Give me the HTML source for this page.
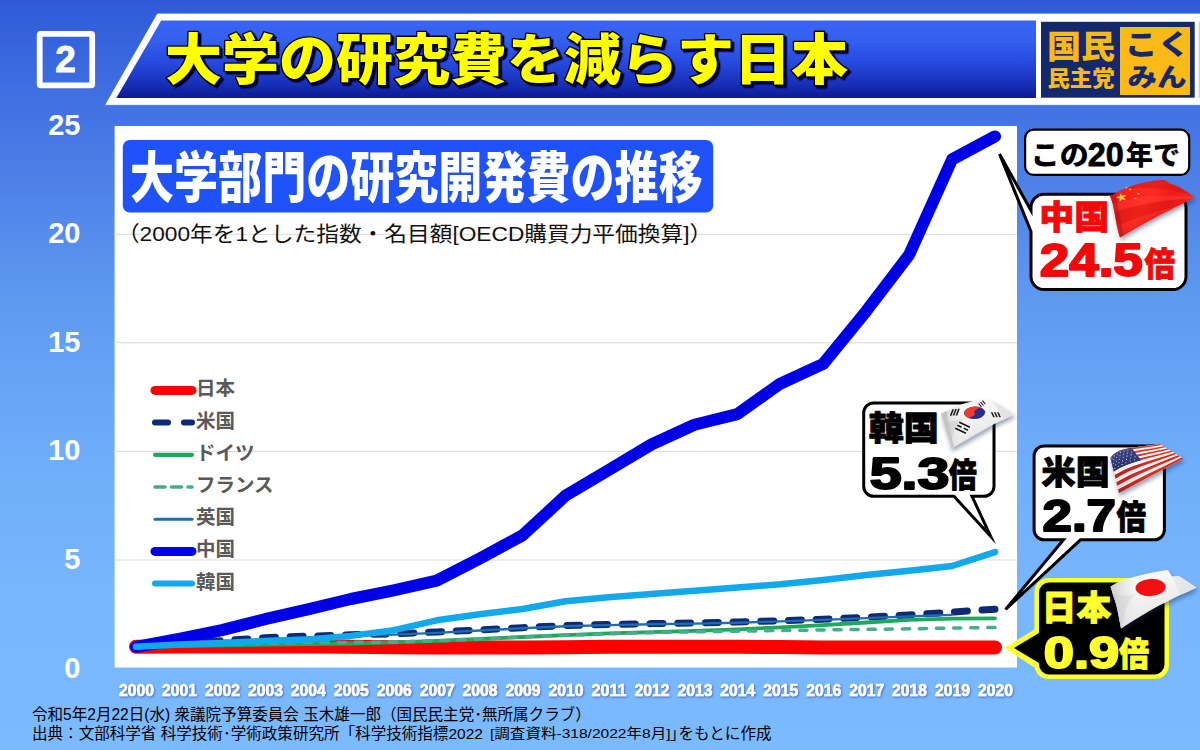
<!DOCTYPE html>
<html lang="ja"><head><meta charset="utf-8"><title>大学の研究費を減らす日本</title>
<style>
html,body{margin:0;padding:0;background:#6aa6f3;overflow:hidden}
svg{display:block}
text{font-family:"Liberation Sans","Noto Sans CJK JP",sans-serif}
.hv{font-weight:900}
</style></head><body>
<svg width="1200" height="750" viewBox="0 0 1200 750">
<defs>
<linearGradient id="bg" x1="0" y1="0" x2="0" y2="1">
<stop offset="0" stop-color="#2e5ad8"/><stop offset="0.13" stop-color="#4070e2"/><stop offset="0.4" stop-color="#5f99f0"/><stop offset="0.52" stop-color="#68a5f6"/><stop offset="0.62" stop-color="#6faefa"/><stop offset="0.8" stop-color="#78b6fd"/><stop offset="1" stop-color="#7cbafe"/>
</linearGradient>
<linearGradient id="ban" x1="0" y1="0" x2="0" y2="1">
<stop offset="0" stop-color="#3964f4"/><stop offset="0.25" stop-color="#3460f0"/><stop offset="0.55" stop-color="#2649dd"/><stop offset="0.8" stop-color="#1932bc"/><stop offset="1" stop-color="#0c1a92"/>
</linearGradient>
<filter id="tsh" x="-1%" y="-10%" width="102%" height="125%"><feDropShadow dx="2.400" dy="2.400" stdDeviation="0.300" flood-color="#00003a" flood-opacity="1"/></filter>
<filter id="ysh" x="-5%" y="-30%" width="110%" height="180%"><feDropShadow dx="0.800" dy="1" stdDeviation="1.100" flood-color="#3a5ca2" flood-opacity="0.900"/></filter>
</defs>
<rect width="1200" height="750" fill="url(#bg)"/>

<!-- number box -->
<rect x="39.700" y="33.800" width="52.500" height="51.500" rx="1" fill="none" stroke="#fff" stroke-width="5.800"/>
<text x="65.5" y="72" text-anchor="middle" font-size="37" font-weight="700" fill="#fff" stroke="#fff" stroke-width="0.8">2</text>

<!-- banner -->
<polygon points="157.500,14 1200,14 1200,104.600 105.800,104.600" fill="#fff" stroke="#fff" stroke-width="0.800" stroke-linejoin="round"/>
<polygon points="161.200,20.500 1036,20.500 1036,98 116.300,98" fill="url(#ban)"/>
<rect x="1041" y="21.800" width="153.700" height="75.900" fill="#14286e"/>
<rect x="1198.500" y="21.500" width="1.500" height="76.500" fill="#c5cef2"/>
<rect x="1120" y="27" width="70" height="68" fill="#fbb917"/>
<g class="hv" fill="#fbb917">
<text x="1047" y="58" font-size="32" textLength="68" lengthAdjust="spacingAndGlyphs">国民</text>
<text x="1047.500" y="86" font-size="21.500" textLength="67" lengthAdjust="spacingAndGlyphs">民主党</text>
</g>
<g class="hv" fill="#14286e">
<text x="1124.700" y="55" font-size="28" textLength="65.700" lengthAdjust="spacingAndGlyphs">こく</text>
<text x="1127.500" y="85.500" font-size="24.500" textLength="59" lengthAdjust="spacingAndGlyphs">みん</text>
</g>
<g class="hv" font-size="55">
<text x="165" y="79.300" fill="#ffff00" stroke="#000" stroke-width="2.600" filter="url(#tsh)" stroke-linejoin="round" paint-order="stroke" textLength="683" lengthAdjust="spacingAndGlyphs">大学の研究費を減らす日本</text>
</g>

<!-- chart panel -->
<rect x="114.600" y="126" width="902.400" height="541.500" fill="#fff"/>
<g stroke="#d9d9d9" stroke-width="1"><line x1="114" x2="1017" y1="560.0" y2="560.0"/><line x1="114" x2="1017" y1="451.4" y2="451.4"/><line x1="114" x2="1017" y1="342.8" y2="342.8"/><line x1="114" x2="1017" y1="234.3" y2="234.3"/></g>
<rect x="122.800" y="140" width="590.400" height="72.600" rx="7" fill="#1f52f8"/>
<text class="hv" x="130" y="196.700" font-size="55" fill="#fff" textLength="572.700" lengthAdjust="spacingAndGlyphs">大学部門の研究開発費の推移</text>
<text x="116.900" y="240.500" font-size="21" font-weight="400" fill="#111" textLength="595.300" lengthAdjust="spacingAndGlyphs">（2000年を1とした指数・名目額[OECD購買力平価換算]）</text>

<!-- axis labels -->
<g font-size="29" font-weight="700" fill="#fff"><text x="80.5" y="677.5" text-anchor="end">0</text><text x="80.5" y="569.0" text-anchor="end">5</text><text x="80.5" y="460.4" text-anchor="end">10</text><text x="80.5" y="351.8" text-anchor="end">15</text><text x="80.5" y="243.3" text-anchor="end">20</text><text x="80.5" y="134.8" text-anchor="end">25</text></g>
<g font-size="17" font-weight="700" fill="#fff" stroke="#fff" stroke-width="0.600" filter="url(#ysh)"><text x="136.5" y="696.3" text-anchor="middle" textLength="35" lengthAdjust="spacingAndGlyphs">2000</text><text x="179.4" y="696.3" text-anchor="middle" textLength="35" lengthAdjust="spacingAndGlyphs">2001</text><text x="222.4" y="696.3" text-anchor="middle" textLength="35" lengthAdjust="spacingAndGlyphs">2002</text><text x="265.4" y="696.3" text-anchor="middle" textLength="35" lengthAdjust="spacingAndGlyphs">2003</text><text x="308.3" y="696.3" text-anchor="middle" textLength="35" lengthAdjust="spacingAndGlyphs">2004</text><text x="351.2" y="696.3" text-anchor="middle" textLength="35" lengthAdjust="spacingAndGlyphs">2005</text><text x="394.2" y="696.3" text-anchor="middle" textLength="35" lengthAdjust="spacingAndGlyphs">2006</text><text x="437.2" y="696.3" text-anchor="middle" textLength="35" lengthAdjust="spacingAndGlyphs">2007</text><text x="480.1" y="696.3" text-anchor="middle" textLength="35" lengthAdjust="spacingAndGlyphs">2008</text><text x="523.0" y="696.3" text-anchor="middle" textLength="35" lengthAdjust="spacingAndGlyphs">2009</text><text x="566.0" y="696.3" text-anchor="middle" textLength="35" lengthAdjust="spacingAndGlyphs">2010</text><text x="609.0" y="696.3" text-anchor="middle" textLength="35" lengthAdjust="spacingAndGlyphs">2011</text><text x="651.9" y="696.3" text-anchor="middle" textLength="35" lengthAdjust="spacingAndGlyphs">2012</text><text x="694.9" y="696.3" text-anchor="middle" textLength="35" lengthAdjust="spacingAndGlyphs">2013</text><text x="737.8" y="696.3" text-anchor="middle" textLength="35" lengthAdjust="spacingAndGlyphs">2014</text><text x="780.8" y="696.3" text-anchor="middle" textLength="35" lengthAdjust="spacingAndGlyphs">2015</text><text x="823.7" y="696.3" text-anchor="middle" textLength="35" lengthAdjust="spacingAndGlyphs">2016</text><text x="866.7" y="696.3" text-anchor="middle" textLength="35" lengthAdjust="spacingAndGlyphs">2017</text><text x="909.6" y="696.3" text-anchor="middle" textLength="35" lengthAdjust="spacingAndGlyphs">2018</text><text x="952.6" y="696.3" text-anchor="middle" textLength="35" lengthAdjust="spacingAndGlyphs">2019</text><text x="995.5" y="696.3" text-anchor="middle" textLength="35" lengthAdjust="spacingAndGlyphs">2020</text></g>

<!-- legend -->
<g font-size="19.500" font-weight="700" fill="#595959"><line x1="155" x2="192" y1="390.4" y2="390.4" stroke="#ff0000" stroke-width="9" stroke-linecap="round"/><text x="196" y="395.4">日本</text><line x1="155" x2="192" y1="422.6" y2="422.6" stroke="#0f2a75" stroke-width="6" stroke-dasharray="13 16" stroke-linecap="round"/><text x="196" y="427.6">米国</text><line x1="155" x2="192" y1="454.8" y2="454.8" stroke="#1fa85c" stroke-width="4.200" stroke-linecap="round"/><text x="196" y="459.8">ドイツ</text><line x1="155" x2="192" y1="487.0" y2="487.0" stroke="#45ad8c" stroke-width="3.600" stroke-dasharray="10 6.500" stroke-linecap="round"/><text x="196" y="492.0">フランス</text><line x1="155" x2="192" y1="519.2" y2="519.2" stroke="#1d6db3" stroke-width="3" stroke-linecap="round"/><text x="196" y="524.2">英国</text><line x1="155" x2="192" y1="551.4" y2="551.4" stroke="#0000e6" stroke-width="9" stroke-linecap="round"/><text x="196" y="556.4">中国</text><line x1="155" x2="192" y1="583.6" y2="583.6" stroke="#12a8ec" stroke-width="6" stroke-linecap="round"/><text x="196" y="588.6">韓国</text></g>

<!-- series -->
<g fill="none" stroke-linecap="round" stroke-linejoin="round">
<polyline points="136.0,646.8 178.9,646.6 221.9,646.4 264.9,646.4 307.8,646.6 350.8,646.8 393.7,647.2 436.7,647.4 479.6,647.4 522.5,647.4 565.5,647.2 608.5,646.8 651.4,646.8 694.4,646.8 737.3,646.8 780.2,647.0 823.2,647.4 866.2,647.4 909.1,647.4 952.1,647.4 995.0,647.5" stroke="#ff0000" stroke-width="14"/>
<polyline points="995.0,609.2 952.1,612.1 909.1,614.9 866.2,617.3 823.2,619.2 780.2,620.7 737.3,622.0 694.4,622.9 651.4,623.6 608.5,624.4 565.5,625.5 522.5,627.7 479.6,629.9 436.7,632.0 393.7,633.8 350.8,634.8 307.8,636.2 264.9,637.7 221.9,640.7 178.9,644.0 136.0,646.8" stroke="#0f2a75" stroke-width="7" stroke-dasharray="13 14.700"/>
<polyline points="136.0,646.8 178.9,646.1 221.9,645.3 264.9,644.6 307.8,644.2 350.8,643.5 393.7,642.4 436.7,640.9 479.6,639.0 522.5,637.0 565.5,635.1 608.5,633.3 651.4,632.2 694.4,630.9 737.3,629.4 780.2,627.3 823.2,625.1 866.2,622.5 909.1,619.9 952.1,618.6 995.0,618.3" stroke="#1fa85c" stroke-width="3.800"/>
<polyline points="995.0,627.5 952.1,628.1 909.1,628.8 866.2,629.4 823.2,629.9 780.2,630.5 737.3,631.2 694.4,631.8 651.4,632.7 608.5,633.8 565.5,635.3 522.5,637.0 479.6,639.2 436.7,640.9 393.7,642.0 350.8,642.4 307.8,642.4 264.9,643.5 221.9,644.6 178.9,645.7 136.0,646.8" stroke="#45ad8c" stroke-width="3.500" stroke-dasharray="7.200 9.900"/>
<polyline points="136.0,646.8 178.9,644.6 221.9,642.0 264.9,639.2 307.8,637.5 350.8,635.9 393.7,634.6 436.7,632.9 479.6,630.5 522.5,628.3 565.5,626.2 608.5,625.1 651.4,624.2 694.4,623.6 737.3,622.7 780.2,621.4 823.2,619.9 866.2,618.1 909.1,616.4 952.1,614.9" stroke="#1d6db3" stroke-width="2.400"/>
<polyline points="136.0,646.8 178.9,638.8 221.9,630.1 264.9,619.2 307.8,609.4 350.8,599.0 393.7,590.3 436.7,580.6 479.6,558.6 522.5,535.4 565.5,495.7 608.5,470.1 651.4,444.5 694.4,424.7 737.3,414.1 780.2,383.7 823.2,363.9 866.2,311.2 909.1,254.9 952.1,159.4 995.0,136.4" stroke="#0000e6" stroke-width="12"/>
<polyline points="136.0,646.8 178.9,644.6 221.9,642.9 264.9,641.1 307.8,639.4 350.8,635.9 393.7,630.1 436.7,620.3 479.6,614.2 522.5,609.0 565.5,601.2 608.5,597.3 651.4,594.0 694.4,590.8 737.3,587.5 780.2,584.3 823.2,579.9 866.2,575.1 909.1,570.8 952.1,566.0 995.0,552.1" stroke="#12a8ec" stroke-width="6.500"/>
</g>

<!-- CALLOUTS -->
<defs>
<filter id="fsh" x="-20%" y="-20%" width="150%" height="170%"><feDropShadow dx="1" dy="3" stdDeviation="2" flood-color="#1b2a55" flood-opacity="0.45"/></filter>
<linearGradient id="gCN" x1="0" y1="0" x2="1" y2="0.35"><stop offset="0" stop-color="#d91414"/><stop offset="0.25" stop-color="#f21c1c"/><stop offset="0.5" stop-color="#ff2a22"/><stop offset="0.75" stop-color="#f01a1a"/><stop offset="1" stop-color="#ff3326"/></linearGradient>
<linearGradient id="gCN2" x1="0" y1="0" x2="0.4" y2="1"><stop offset="0" stop-color="#ff4030" stop-opacity="0.5"/><stop offset="0.45" stop-color="#ff2a22" stop-opacity="0"/><stop offset="1" stop-color="#b80c0c" stop-opacity="0.55"/></linearGradient>
<linearGradient id="gW" x1="0" y1="0" x2="0.5" y2="1"><stop offset="0" stop-color="#ffffff"/><stop offset="0.35" stop-color="#f6f6f6"/><stop offset="0.7" stop-color="#ececec"/><stop offset="1" stop-color="#dcdcdc"/></linearGradient>
<linearGradient id="gWl" x1="0" y1="0" x2="1" y2="0"><stop offset="0" stop-color="#c9c9c9" stop-opacity="0.9"/><stop offset="0.18" stop-color="#e2e2e2" stop-opacity="0.6"/><stop offset="0.4" stop-color="#ffffff" stop-opacity="0"/></linearGradient>
<linearGradient id="gUSw" x1="0" y1="0" x2="1" y2="0"><stop offset="0" stop-color="#f3e6e2"/><stop offset="0.5" stop-color="#fff7f2"/><stop offset="1" stop-color="#fde9e2"/></linearGradient>
<linearGradient id="gUSr" x1="0" y1="0" x2="1" y2="0"><stop offset="0" stop-color="#a81c1a"/><stop offset="0.5" stop-color="#d42a24"/><stop offset="1" stop-color="#cc2620"/></linearGradient>
<linearGradient id="gShade" x1="0" y1="0" x2="0.3" y2="1"><stop offset="0" stop-color="#fff" stop-opacity="0.3"/><stop offset="0.5" stop-color="#fff" stop-opacity="0"/><stop offset="1" stop-color="#400" stop-opacity="0.35"/></linearGradient>
<linearGradient id="gTG" x1="0.2" y1="0" x2="0.8" y2="1"><stop offset="0.46" stop-color="#f0402e"/><stop offset="0.54" stop-color="#2b2c8c"/></linearGradient>
</defs><g stroke-linejoin="round"><rect x="1025.100" y="129.700" width="164.100" height="45.200" rx="8.500" fill="#fff" stroke="#000" stroke-width="2.200"/><path d="M1044,194.300 H1173 a13,13 0 0 1 13,13 V276.600 a13,13 0 0 1 -13,13 H1044 a13,13 0 0 1 -13,-13 V231.500 L999.500,154 L1031,210.500 V207.300 a13,13 0 0 1 13,-13 Z" fill="#fff" stroke="#000" stroke-width="3" stroke-linejoin="miter" stroke-miterlimit="10"/><path d="M873.700,403 H984 a10,10 0 0 1 10,10 V486.300 a10,10 0 0 1 -10,10 H972 L990.500,536 L954,496.300 H873.700 a10,10 0 0 1 -10,-10 V413 a10,10 0 0 1 10,-10 Z" fill="#fff" stroke="#000" stroke-width="3" stroke-miterlimit="10" stroke-linejoin="miter"/><path d="M1044.100,446 H1154.400 a10,10 0 0 1 10,10 V529.800 a10,10 0 0 1 -10,10 H1080.500 L1005.500,609.500 L1063.500,539.800 H1044.100 a10,10 0 0 1 -10,-10 V456 a10,10 0 0 1 10,-10 Z" fill="#fff" stroke="#000" stroke-width="3" stroke-miterlimit="10" stroke-linejoin="miter"/><path d="M1048.400,578 H1155 a14,14 0 0 1 14,14 V665 a14,14 0 0 1 -14,14 H1048.400 a14,14 0 0 1 -14,-14 V667.500 L1004.400,648 L1034.400,629.500 V592 a14,14 0 0 1 14,-14 Z" fill="#ffff30"/><path d="M1049,582.500 H1154.500 a10,10 0 0 1 10,10 V664.500 a10,10 0 0 1 -10,10 H1049 a10,10 0 0 1 -10,-10 V663 L1014,648 L1039,633 V592.500 a10,10 0 0 1 10,-10 Z" fill="#000"/></g><g class="hv" stroke-linejoin="round"><text y="164.500" font-size="27" fill="#000"><tspan x="1030.800" textLength="58" lengthAdjust="spacingAndGlyphs">この</tspan><tspan x="1087.800" y="165.700" font-size="34" stroke="#000" stroke-width="0.800" textLength="36" lengthAdjust="spacingAndGlyphs">20</tspan><tspan x="1125.800" y="164.500" textLength="54.500" lengthAdjust="spacingAndGlyphs">年で</tspan></text><g fill="#f00a0a" stroke="#f00a0a" stroke-width="0.900"><text x="1039.200" y="229" font-size="33" textLength="70" lengthAdjust="spacingAndGlyphs">中国</text><text x="1039.800" y="276" font-size="46" stroke="#f00a0a" stroke-width="2" textLength="103" lengthAdjust="spacingAndGlyphs">24.5</text><text x="1144.500" y="275.800" font-size="33" textLength="30.500" lengthAdjust="spacingAndGlyphs">倍</text></g><g fill="#000" stroke="#000" stroke-width="0.900"><text x="868.700" y="439.700" font-size="33" textLength="70" lengthAdjust="spacingAndGlyphs">韓国</text><text x="869.700" y="489" font-size="44" stroke="#000" stroke-width="2" textLength="79.600" lengthAdjust="spacingAndGlyphs">5.3</text><text x="948.800" y="487.400" font-size="33" textLength="28" lengthAdjust="spacingAndGlyphs">倍</text><text x="1041.600" y="483.500" font-size="33" textLength="68.100" lengthAdjust="spacingAndGlyphs">米国</text><text x="1042.500" y="530.600" font-size="44" stroke="#000" stroke-width="2" textLength="73.500" lengthAdjust="spacingAndGlyphs">2.7</text><text x="1116.600" y="529.400" font-size="33" textLength="29.500" lengthAdjust="spacingAndGlyphs">倍</text></g><g fill="#ffff30" stroke="#ffff30" stroke-width="0.900"><text x="1041.700" y="620" font-size="34" textLength="69.400" lengthAdjust="spacingAndGlyphs">日本</text><text x="1043.700" y="668" font-size="44" stroke="#ffff30" stroke-width="2" textLength="75.500" lengthAdjust="spacingAndGlyphs">0.9</text><text x="1119" y="665.500" font-size="33" textLength="30" lengthAdjust="spacingAndGlyphs">倍</text></g></g><g filter="url(#fsh)"><path d="M1110,196.5 C1118,191 1128,186.5 1138,184 C1148,181.5 1158,180 1165,180 L1169.500,183.500 L1176,185.500 C1183,189 1190,194 1194.500,197 C1186,202.500 1172,209 1160,215 C1146,222 1133,230 1120,237.500 C1117,228 1114.500,212 1113,205 C1112,201 1111,198.500 1110,196.500 Z" fill="url(#gCN)"/></g><path d="M1110,196.5 C1118,191 1128,186.5 1138,184 C1148,181.5 1158,180 1165,180 L1169.500,183.500 L1176,185.500 C1183,189 1190,194 1194.500,197 C1186,202.500 1172,209 1160,215 C1146,222 1133,230 1120,237.500 C1117,228 1114.500,212 1113,205 C1112,201 1111,198.500 1110,196.500 Z" fill="url(#gCN2)"/><clipPath id="cpCN"><path d="M1110,196.5 C1118,191 1128,186.5 1138,184 C1148,181.5 1158,180 1165,180 L1169.500,183.500 L1176,185.500 C1183,189 1190,194 1194.500,197 C1186,202.500 1172,209 1160,215 C1146,222 1133,230 1120,237.500 C1117,228 1114.500,212 1113,205 C1112,201 1111,198.500 1110,196.500 Z"/></clipPath><g clip-path="url(#cpCN)"><path d="M1126,189 C1145,186 1170,189 1196,197 L1196,193 C1180,186 1172,183 1166,179 C1150,180 1136,184 1126,189 Z" fill="#c30f0f" opacity="0.4"/><path d="M1112,204 C1135,196 1160,193 1195,197.500 L1195,199 C1165,199 1140,203 1114,212 Z" fill="#ff5040" opacity="0.3"/><path d="M1114,213 C1140,204 1165,200 1195,198 L1180,206 C1160,210 1140,216 1116,226 Z" fill="#b00c0c" opacity="0.2"/><path d="M1116.500,226 C1135,218 1155,211 1178,206 L1160,215 C1145,221 1130,229 1118.500,236 Z" fill="#ff4636" opacity="0.2"/><path d="M1109,196 L1116,193 C1118,205 1121,225 1124,236 L1119,240 Z" fill="#a00a0a" opacity="0.35"/></g><g fill="#ffd22e"><polygon points="1120.1,193.2 1122.3,195.7 1126.2,195.1 1123.8,197.6 1125.9,200.3 1122.1,199.3 1119.5,201.7 1119.5,198.5 1115.9,197.3 1119.7,196.3"/><polygon points="1130.0,188.1 1130.4,189.0 1131.6,189.1 1130.7,189.7 1131.0,190.6 1130.0,190.1 1129.0,190.6 1129.3,189.7 1128.4,189.1 1129.6,189.0"/><polygon points="1138.5,192.6 1138.9,193.5 1140.1,193.6 1139.2,194.2 1139.5,195.1 1138.5,194.6 1137.5,195.1 1137.8,194.2 1136.9,193.6 1138.1,193.5"/><polygon points="1135.5,197.2 1135.9,198.1 1137.0,198.1 1136.1,198.7 1136.4,199.5 1135.5,199.0 1134.6,199.5 1134.9,198.7 1134.0,198.1 1135.1,198.1"/><polygon points="1126.5,186.4 1126.8,187.1 1127.8,187.2 1127.1,187.6 1127.3,188.4 1126.5,188.0 1125.7,188.4 1125.9,187.6 1125.2,187.2 1126.2,187.1"/></g><g filter="url(#fsh)"><path d="M941,413.5 C947,410.500 953,407.500 960,405 C966,403 972,401 978,400 C982,399.700 986,400 990,400.500 C994,401.500 997,403 1000,405 C1005,408 1010,411.500 1014.500,414.500 C1007,418 1000,421 994,424 C986,428.500 978,433.500 970,438 C964,441.500 957,445 951.500,448.500 C949.500,441 948,435 946,430 C945,426 944,423 943,420 C942.300,417.500 941.700,415.500 941,413.500 Z" fill="url(#gW)"/></g><path d="M941,413.5 C947,410.500 953,407.500 960,405 C966,403 972,401 978,400 C982,399.700 986,400 990,400.500 C994,401.500 997,403 1000,405 C1005,408 1010,411.500 1014.500,414.500 C1007,418 1000,421 994,424 C986,428.500 978,433.500 970,438 C964,441.500 957,445 951.500,448.500 C949.500,441 948,435 946,430 C945,426 944,423 943,420 C942.300,417.500 941.700,415.500 941,413.500 Z" fill="url(#gWl)"/><clipPath id="cpKR"><path d="M941,413.5 C947,410.500 953,407.500 960,405 C966,403 972,401 978,400 C982,399.700 986,400 990,400.500 C994,401.500 997,403 1000,405 C1005,408 1010,411.500 1014.500,414.500 C1007,418 1000,421 994,424 C986,428.500 978,433.500 970,438 C964,441.500 957,445 951.500,448.500 C949.500,441 948,435 946,430 C945,426 944,423 943,420 C942.300,417.500 941.700,415.500 941,413.500 Z"/></clipPath><g clip-path="url(#cpKR)"><path d="M941,414 L947,411 C948,420 951,436 955,450 L949,452 Z" fill="#b5b5b5" opacity="0.55"/><path d="M944,420 C950,422 958,421 964,418 C956,424 953,432 952,440 L947,436 Z" fill="#c4c4c4" opacity="0.45"/><path d="M951,449 C968,438 990,425 1015,414.500 L1015,418 L955,452 Z" fill="#b0b0b0" opacity="0.5"/><path d="M990,400 L1000,405 L1015,414.500 L1003,419 C1000,412 996,405 990,400 Z" fill="#cfd2d8" opacity="0.45"/></g><g transform="translate(974.600,412.800) rotate(-3) scale(10.500,6.300) rotate(-38)"><circle r="1" fill="#2b2c8c"/><path d="M-1,0 A1,1 0 0 1 1,0 A0.500,0.300 0 0 0 0,0 A0.500,0.300 0 0 1 -1,0 Z" fill="#f03c2c"/></g><g stroke="#151515" stroke-width="1.5"><line x1="950.6" y1="415.8" x2="953.2" y2="409.2"/><line x1="953.5" y1="415.6" x2="956.1" y2="409.0"/><line x1="956.4" y1="415.4" x2="959.0" y2="408.8"/></g><g stroke="#151515" stroke-width="1.1"><line x1="978.6" y1="403.6" x2="981.6" y2="407.0"/><line x1="980.5" y1="402.1" x2="983.5" y2="405.5"/><line x1="982.4" y1="400.6" x2="985.4" y2="404.0"/></g><g stroke="#151515" stroke-width="1.5"><line x1="991.6" y1="412.2" x2="994.0" y2="417.2"/><line x1="994.7" y1="412.2" x2="997.1" y2="417.2"/><line x1="997.8" y1="412.2" x2="1000.2" y2="417.2"/></g><g stroke="#151515" stroke-width="1.6"><line x1="959.3" y1="422.2" x2="969.9" y2="427.2"/><line x1="957.3" y1="425.2" x2="961.6" y2="427.2"/><line x1="963.6" y1="428.1" x2="967.9" y2="430.2"/><line x1="955.3" y1="428.2" x2="965.9" y2="433.2"/></g><g filter="url(#fsh)"><path d="M1110.5,458.0 C1118.0,446.5 1138.0,447.5 1160.0,444.0 L1183.5,458.5 C1162.0,470.0 1140.5,481.5 1119.0,493.0 Z" fill="url(#gUSw)"/><path d="M1110.5,458.0 C1118.0,446.5 1138.0,447.5 1160.0,444.0 L1161.8,445.1 C1139.7,449.1 1119.4,448.7 1111.0,459.9 Z M1111.4,461.9 C1120.8,450.9 1141.3,450.6 1163.6,446.2 L1165.4,447.3 C1143.0,452.2 1122.2,453.0 1111.9,463.8 Z M1112.4,465.7 C1123.6,455.2 1144.7,453.8 1167.2,448.5 L1169.0,449.6 C1146.4,455.3 1125.0,457.4 1112.8,467.6 Z M1113.3,469.6 C1126.4,459.6 1148.0,456.9 1170.8,450.7 L1172.7,451.8 C1149.7,458.5 1127.8,461.8 1113.8,471.5 Z M1114.7,475.1 C1129.9,465.1 1151.8,460.4 1174.5,452.9 L1176.3,454.0 C1153.8,462.3 1132.0,468.3 1115.5,478.7 Z M1116.4,482.3 C1134.2,471.6 1155.9,464.2 1178.1,455.2 L1179.9,456.3 C1157.9,466.2 1136.3,474.9 1117.3,485.8 Z M1118.1,489.4 C1138.4,478.2 1160.0,468.1 1181.7,457.4 L1183.5,458.5 C1162.0,470.0 1140.5,481.5 1119.0,493.0 Z " fill="url(#gUSr)"/><path d="M1110.5,458.0 C1114.5,451.9 1122.0,449.3 1131.4,447.7 L1141.1,460.2 C1130.5,463.1 1121.1,466.4 1113.8,471.5 Z" fill="#25306f"/><g fill="#dfe3f5"><circle cx="1111.9" cy="458.2" r="0.55"/><circle cx="1114.3" cy="455.9" r="0.55"/><circle cx="1117.2" cy="454.0" r="0.55"/><circle cx="1120.4" cy="452.4" r="0.55"/><circle cx="1124.0" cy="451.1" r="0.55"/><circle cx="1127.9" cy="450.1" r="0.55"/><circle cx="1113.9" cy="459.6" r="0.55"/><circle cx="1116.8" cy="457.5" r="0.55"/><circle cx="1120.0" cy="455.8" r="0.55"/><circle cx="1123.6" cy="454.3" r="0.55"/><circle cx="1127.5" cy="453.0" r="0.55"/><circle cx="1131.6" cy="452.0" r="0.55"/><circle cx="1113.4" cy="463.3" r="0.55"/><circle cx="1116.3" cy="461.1" r="0.55"/><circle cx="1119.6" cy="459.2" r="0.55"/><circle cx="1123.2" cy="457.5" r="0.55"/><circle cx="1127.0" cy="456.1" r="0.55"/><circle cx="1131.2" cy="454.9" r="0.55"/><circle cx="1115.7" cy="464.7" r="0.55"/><circle cx="1119.0" cy="462.7" r="0.55"/><circle cx="1122.6" cy="460.9" r="0.55"/><circle cx="1126.5" cy="459.4" r="0.55"/><circle cx="1130.7" cy="458.0" r="0.55"/><circle cx="1135.1" cy="456.7" r="0.55"/><circle cx="1114.9" cy="468.4" r="0.55"/><circle cx="1118.3" cy="466.2" r="0.55"/><circle cx="1122.0" cy="464.4" r="0.55"/><circle cx="1125.9" cy="462.7" r="0.55"/><circle cx="1130.1" cy="461.1" r="0.55"/><circle cx="1134.6" cy="459.7" r="0.55"/></g><path d="M1110.5,458.0 C1118.0,446.5 1138.0,447.5 1160.0,444.0 L1183.5,458.5 C1162.0,470.0 1140.5,481.5 1119.0,493.0 Z" fill="url(#gShade)" opacity="0.55"/></g><g filter="url(#fsh)"><path d="M1110.5,586.5 C1118,582 1124,580 1130,578 C1138,575.500 1144,574.500 1150,573 C1157,571.500 1163,570.500 1168,570 L1172,576.500 L1179,576 C1185,579.500 1191,584 1196.500,587.500 C1191,590.500 1186,592.500 1180,595 C1173,598.500 1167,601.500 1160,605 C1153,608.500 1147,612.500 1140,616.500 C1133,620.500 1127,624.500 1121,628.500 C1119.500,621 1118.500,615 1117,608 C1116,603 1114.500,599 1113,595 C1112,591.500 1111.500,589 1110.500,586.500 Z" fill="url(#gW)"/></g><path d="M1110.5,586.5 C1118,582 1124,580 1130,578 C1138,575.500 1144,574.500 1150,573 C1157,571.500 1163,570.500 1168,570 L1172,576.500 L1179,576 C1185,579.500 1191,584 1196.500,587.500 C1191,590.500 1186,592.500 1180,595 C1173,598.500 1167,601.500 1160,605 C1153,608.500 1147,612.500 1140,616.500 C1133,620.500 1127,624.500 1121,628.500 C1119.500,621 1118.500,615 1117,608 C1116,603 1114.500,599 1113,595 C1112,591.500 1111.500,589 1110.500,586.500 Z" fill="url(#gWl)"/><clipPath id="cpJP"><path d="M1110.5,586.5 C1118,582 1124,580 1130,578 C1138,575.500 1144,574.500 1150,573 C1157,571.500 1163,570.500 1168,570 L1172,576.500 L1179,576 C1185,579.500 1191,584 1196.500,587.500 C1191,590.500 1186,592.500 1180,595 C1173,598.500 1167,601.500 1160,605 C1153,608.500 1147,612.500 1140,616.500 C1133,620.500 1127,624.500 1121,628.500 C1119.500,621 1118.500,615 1117,608 C1116,603 1114.500,599 1113,595 C1112,591.500 1111.500,589 1110.500,586.500 Z"/></clipPath><g clip-path="url(#cpJP)"><path d="M1112,594 C1120,596 1128,596 1136,594 C1128,600 1124,612 1122,630 L1116,630 Z" fill="#c4c4c4" opacity="0.3"/><path d="M1168,570 L1172,576.500 L1179,576 L1197,588 L1180,595 C1178,588 1174,580 1168,570 Z" fill="#c9cdd6" opacity="0.28"/><path d="M1121,629 C1140,617 1165,603 1197,588 L1197,592 L1125,634 Z" fill="#b8b8b8" opacity="0.45"/></g><g transform="translate(1150.500,587.500) rotate(-3)"><ellipse rx="15" ry="8.600" fill="#f01212"/></g>

<!-- footer -->
<g font-size="16" fill="#000">
<text x="32" y="720" textLength="558.800" lengthAdjust="spacingAndGlyphs">令和5年2月22日(水) 衆議院予算委員会 玉木雄一郎（国民民主党･無所属クラブ）</text>
<text x="32" y="738.500" font-size="15.500" textLength="451" lengthAdjust="spacingAndGlyphs">出典：文部科学省 科学技術･学術政策研究所「科学技術指標2022</text>
<text x="490" y="738" font-size="13.500" textLength="180.500" lengthAdjust="spacingAndGlyphs">[調査資料-318/2022年8月]</text>
<text x="670" y="738.500" font-size="15.500">」</text>
<text x="678.500" y="738.500" font-size="15.500" textLength="93" lengthAdjust="spacingAndGlyphs">をもとに作成</text>
</g>
</svg></body></html>
